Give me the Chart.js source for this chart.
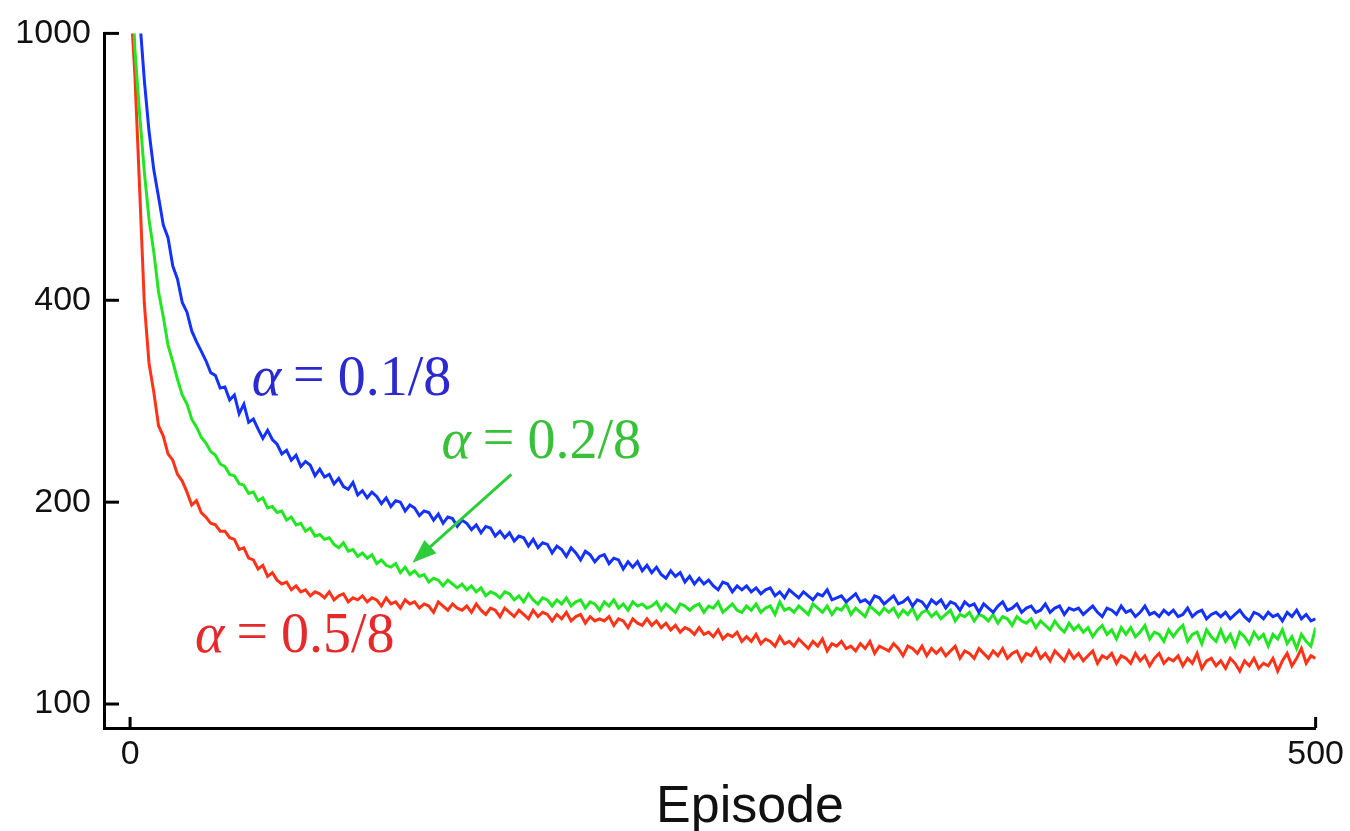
<!DOCTYPE html>
<html>
<head>
<meta charset="utf-8">
<script src="https://cdn.jsdelivr.net/npm/chart.js@4/dist/chart.umd.min.js"></script>
<style>
  html, body { margin: 0; padding: 0; background: #fff; }
  #wrap { width: 1350px; height: 831px; }
</style>
</head>
<body>
<div id="wrap"><canvas id="chart" width="1350" height="831"></canvas></div>
<script>
// Data, one value every 2 episodes (0..500)
const STEP = 2;

const blue = [
  1900, 1300, 1060, 852, 714, 626, 570, 518, 496, 450,
  430, 397, 384, 360, 347, 336, 325, 312, 309, 296,
  297, 284, 289, 271, 280, 263, 266, 257, 249, 256,
  248, 244, 236, 239, 231, 235, 226, 230, 227, 219,
  224, 218, 220, 213, 217, 211, 209, 214, 205, 208,
  203, 207, 204, 199, 203, 197, 201, 200, 194, 198,
  196, 191, 194, 193, 188, 192, 186, 190, 189, 184,
  188, 186, 182, 185, 180, 184, 183, 178, 181, 177,
  180, 175, 178, 177, 172, 176, 171, 174, 173, 168,
  172, 170, 166, 171, 168, 164, 169, 167, 163, 166,
  167, 162, 165, 164, 159, 163, 160, 163, 158, 161,
  157, 160, 156, 154, 158, 155, 157, 152, 155, 151,
  154, 151, 153, 150, 148, 152, 151, 147, 150, 148,
  150, 147, 149, 146, 148, 149, 145, 147, 144, 148,
  146, 144, 147, 145, 143, 146, 145, 148, 143, 144,
  145, 142, 144, 146, 142, 143, 141, 145, 144, 141,
  143, 145, 141, 142, 144, 140, 143, 142, 139, 143,
  141, 143, 139, 142, 141, 138, 142, 140, 141, 137,
  141, 139, 137, 140, 142, 138, 139, 141, 137, 139,
  140, 137, 138, 141, 137, 139, 140, 136, 139, 138,
  139, 136, 138, 140, 137, 135, 139, 138, 136, 140,
  137, 138, 135, 137, 140, 136, 137, 135, 138, 136,
  138, 135, 136, 139, 135, 137, 138, 134, 136, 137,
  135, 137, 134, 136, 138, 135, 133, 137, 136, 134,
  137, 135, 136, 133, 137, 135, 138, 134, 136, 133,
  134
];

const green = [
  1400, 950, 760, 622, 528, 472, 412, 378, 343, 324,
  305, 289, 280, 266, 259, 250, 245, 238, 235, 228,
  226, 220, 219, 213, 212, 206, 207, 201, 203, 196,
  197, 193, 194, 188, 190, 185, 186, 181, 183, 178,
  179, 176, 177, 173, 171, 174, 169, 170, 166, 168,
  165, 167, 162, 164, 161, 160, 162, 157, 160, 156,
  158, 155, 156, 152, 154, 153, 150, 153, 151, 149,
  151, 148, 150, 147, 149, 145, 147, 146, 144, 147,
  146, 143, 145, 142, 146, 143, 141, 144, 143, 140,
  143, 141, 144, 140, 142, 143, 139, 142, 141, 138,
  142, 140, 143, 139, 141, 138, 142, 140, 141, 139,
  140, 142, 138, 141, 139, 137, 141, 140, 138, 140,
  141, 137, 140, 139, 142, 137, 139, 141, 138, 137,
  140, 138, 141, 137, 139, 140, 136, 142, 138, 139,
  137, 140, 138, 136, 141, 139, 137, 140, 136, 139,
  138, 141, 136, 139, 137, 135, 140, 138, 136, 139,
  137, 139, 135, 138, 136, 139, 134, 137, 138, 135,
  137, 134, 136, 138, 133, 136, 135, 137, 133, 136,
  135, 133, 136, 132, 135, 134, 131, 135, 133, 132,
  134, 130, 133, 131, 129, 133, 130, 128, 132, 129,
  131, 128, 130, 126, 129, 131, 127, 129, 125, 130,
  127, 130, 126, 128, 131, 125, 128, 127, 124, 129,
  126, 129, 131, 124, 127, 128, 123, 129, 126, 124,
  129, 124, 127, 122, 128, 126, 123, 128, 125, 127,
  122, 127, 125, 129, 123, 126, 121, 127, 124, 122,
  130
];

const red = [
  1150, 870, 590, 396, 322, 292, 260, 251, 236, 231,
  220, 215, 207, 198, 201, 193, 190, 186, 185, 181,
  181, 177, 176, 170, 171, 165, 164, 159, 161, 155,
  157, 153, 151, 152, 148, 150, 147, 148, 145, 147,
  146, 144, 147, 143, 145, 146, 142, 144, 143, 145,
  142, 144, 143, 140, 144, 141, 142, 139, 143, 141,
  142, 139, 141, 140, 137, 142, 140, 138, 141, 139,
  138, 140, 137, 141, 138, 136, 139, 138, 135, 139,
  137, 135, 138, 136, 134, 138, 135, 137, 136, 133,
  136, 134, 137, 133, 135, 136, 132, 135, 133, 134,
  133, 135, 131, 134, 133, 130, 134, 132, 131, 134,
  131, 133, 130, 132, 129, 131, 128, 130, 129, 127,
  130, 127, 128, 126, 129, 125, 127, 126, 128, 124,
  126, 124, 127, 123, 125, 124, 122, 126, 123, 124,
  122, 125, 123, 121, 124, 122, 125, 120, 123, 122,
  124, 121, 122, 120, 123, 121, 124, 119, 122, 121,
  120, 123, 121, 118, 122, 121, 119, 122, 118, 121,
  119, 121, 118, 120, 122, 117, 120, 119, 117, 121,
  119, 117, 120, 118, 121, 117, 119, 120, 116, 119,
  118, 121, 117, 119, 116, 120, 118, 116, 120, 117,
  119, 116, 118, 120, 115, 118, 117, 119, 115, 118,
  117, 115, 119, 116, 118, 114, 117, 119, 115, 117,
  116, 118, 114, 117, 115, 119, 113, 116, 117, 114,
  116, 113, 117, 115, 112, 116, 114, 117, 113, 115,
  114, 117, 112, 116, 119, 114, 117, 121, 115, 118,
  117
];

const alphaLabels = ['0.1/8', '0.2/8', '0.5/8'];
const xTicks = [0, 500];
const yTicks = [100, 200, 400, 1000];

const episodes = blue.map((_, i) => i * STEP);
const toPoints = vals => vals.map((v, i) => ({ x: episodes[i], y: v }));

// Styling / placement
const lineColors = ['#1432ff', '#22e622', '#ff3318'];
const textColors = ['#2a2ad0', '#38c038', '#e42a2a'];
const labelPos = [
  { x: 51.3, y: 289 },
  { x: 131.3, y: 232.5 },
  { x: 27.4, y: 119.4 }
];
const arrow = { from: { x: 160.8, y: 220 }, to: { x: 119.1, y: 162.5 }, color: '#2ccc3a' };

const decorations = {
  id: 'decorations',
  afterDraw(chart) {
    const { ctx, chartArea } = chart;
    const xs = chart.scales.x;
    const ys = chart.scales.y;
    ctx.save();

    // inward tick marks
    ctx.strokeStyle = '#000';
    ctx.lineWidth = 3;
    ctx.lineCap = 'butt';
    yTicks.forEach(v => {
      const py = ys.getPixelForValue(v);
      ctx.beginPath();
      ctx.moveTo(chartArea.left, py);
      ctx.lineTo(chartArea.left + 15, py);
      ctx.stroke();
    });
    xTicks.forEach(v => {
      const px = xs.getPixelForValue(v);
      ctx.beginPath();
      ctx.moveTo(px, chartArea.bottom);
      ctx.lineTo(px, chartArea.bottom - 11);
      ctx.stroke();
    });

    // alpha labels
    ctx.textBaseline = 'alphabetic';
    ctx.textAlign = 'left';
    alphaLabels.forEach((txt, i) => {
      let px = xs.getPixelForValue(labelPos[i].x);
      const py = ys.getPixelForValue(labelPos[i].y);
      ctx.fillStyle = textColors[i];
      ctx.font = 'italic 56px "Liberation Serif"';
      ctx.fillText('α', px, py);
      px += ctx.measureText('α').width + 12;
      ctx.font = '56px "Liberation Serif"';
      ctx.fillText('=', px, py - 2);
      px += ctx.measureText('=').width + 13;
      ctx.fillText(txt, px, py);
    });

    // arrow pointing at the green curve
    const x0 = xs.getPixelForValue(arrow.from.x), y0 = ys.getPixelForValue(arrow.from.y);
    const x1 = xs.getPixelForValue(arrow.to.x), y1 = ys.getPixelForValue(arrow.to.y);
    const ang = Math.atan2(y1 - y0, x1 - x0);
    const headLen = 24, headW = 9;
    ctx.strokeStyle = arrow.color;
    ctx.fillStyle = arrow.color;
    ctx.lineWidth = 3;
    ctx.beginPath();
    ctx.moveTo(x0, y0);
    ctx.lineTo(x1 - Math.cos(ang) * headLen * 0.8, y1 - Math.sin(ang) * headLen * 0.8);
    ctx.stroke();
    ctx.beginPath();
    ctx.moveTo(x1, y1);
    ctx.lineTo(x1 - Math.cos(ang) * headLen - Math.sin(ang) * headW,
               y1 - Math.sin(ang) * headLen + Math.cos(ang) * headW);
    ctx.lineTo(x1 - Math.cos(ang) * headLen + Math.sin(ang) * headW,
               y1 - Math.sin(ang) * headLen - Math.cos(ang) * headW);
    ctx.closePath();
    ctx.fill();

    // axis title
    ctx.fillStyle = '#111';
    ctx.font = '52px "Liberation Sans"';
    ctx.textAlign = 'center';
    ctx.fillText('Episode', 750, 822);

    ctx.restore();
  }
};

const chart = new Chart(document.getElementById('chart'), {
  type: 'line',
  data: {
    datasets: [
      { label: 'α=0.1/8', data: toPoints(blue), borderColor: lineColors[0] },
      { label: 'α=0.2/8', data: toPoints(green), borderColor: lineColors[1] },
      { label: 'α=0.5/8', data: toPoints(red), borderColor: lineColors[2] }
    ]
  },
  options: {
    responsive: false,
    animation: false,
    layout: { padding: { top: 29, right: 32, left: 0, bottom: 0 } },
    elements: {
      point: { radius: 0 },
      line: { borderWidth: 3, tension: 0 }
    },
    plugins: {
      legend: { display: false },
      tooltip: { enabled: false }
    },
    scales: {
      x: {
        type: 'linear',
        min: -11,
        max: 500,
        afterBuildTicks: scale => { scale.ticks = xTicks.map(v => ({ value: v })); },
        afterFit: scale => { scale.height = 103; },
        grid: { display: false, drawTicks: false },
        border: { display: true, color: '#000', width: 3 },
        ticks: {
          autoSkip: false,
          maxRotation: 0,
          padding: 6,
          color: '#111',
          font: { family: 'Liberation Sans', size: 34 },
          callback: v => String(v)
        }
      },
      y: {
        type: 'logarithmic',
        min: 92.1,
        max: 1000,
        afterBuildTicks: scale => { scale.ticks = yTicks.map(v => ({ value: v })); },
        afterFit: scale => { scale.width = 104; },
        grid: { display: false, drawTicks: false },
        border: { display: true, color: '#000', width: 3 },
        ticks: {
          autoSkip: false,
          padding: 13,
          color: '#111',
          font: { family: 'Liberation Sans', size: 34 },
          callback: v => String(v)
        }
      }
    }
  },
  plugins: [decorations]
});
</script>
</body>
</html>
